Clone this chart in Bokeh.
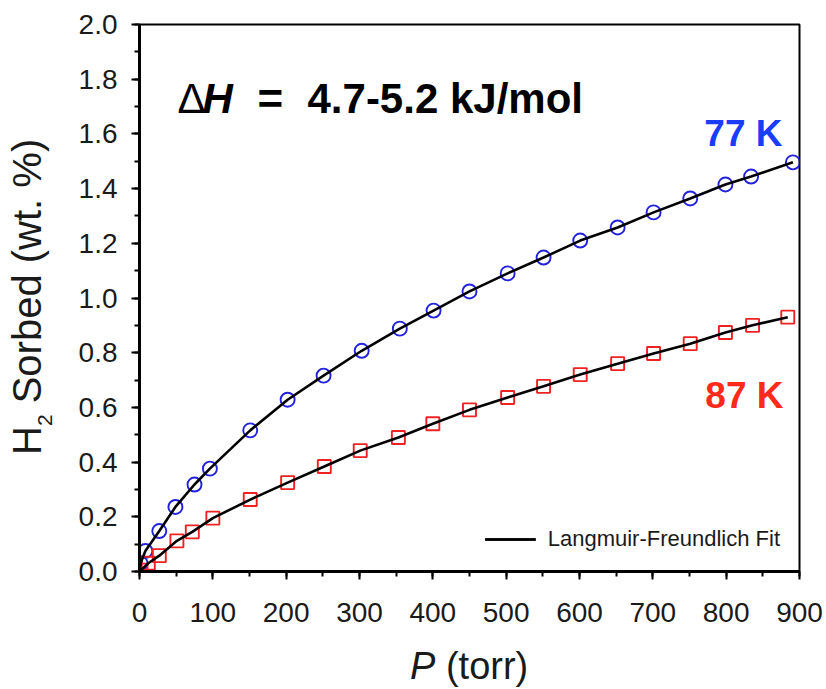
from bokeh.plotting import figure
from bokeh.models import (Range1d, SingleIntervalTicker, PrintfTickFormatter, Label, Legend, LegendItem, Div)
from bokeh.layouts import column, row
from bokeh.embed import file_html
from bokeh.resources import INLINE

# ---- data ----
p_77 = [1.5, 8, 27, 49, 75, 96, 151, 202, 251, 303, 355, 401, 450, 502, 551, 601, 652, 701, 751, 799, 834, 891]
w_77 = [0.03, 0.075, 0.148, 0.236, 0.318, 0.376, 0.516, 0.628, 0.716, 0.807, 0.888, 0.954, 1.024, 1.09, 1.148,
        1.21, 1.258, 1.313, 1.364, 1.415, 1.444, 1.496]
p_87 = [2, 12, 27, 51, 72, 100, 151, 202, 252, 301, 353, 400, 450, 502, 551, 601, 652, 701, 751, 799, 836, 884]
w_87 = [0.005, 0.03, 0.058, 0.112, 0.145, 0.195, 0.263, 0.325, 0.384, 0.442, 0.49, 0.54, 0.591, 0.636, 0.677,
        0.72, 0.76, 0.797, 0.833, 0.874, 0.9, 0.93]
# fit curves start at the origin
fit_p_77 = [0] + p_77
fit_w_77 = [0] + w_77
fit_p_87 = [0] + p_87
fit_w_87 = [0] + w_87

FONT = "Liberation Sans"
YDIV_W = 60
FIG_H = 640

p = figure(width=826 - YDIV_W, height=FIG_H, output_backend="svg", toolbar_location=None,
           x_range=Range1d(0, 900), y_range=Range1d(0, 2.0),
           min_border_left=139 - YDIV_W, min_border_right=27, min_border_top=24,
           min_border_bottom=FIG_H - 571)
p.xgrid.visible = False
p.ygrid.visible = False
p.outline_line_color = "black"
p.outline_line_width = 2
p.background_fill_color = "white"
p.border_fill_color = "white"

p.xaxis.ticker = SingleIntervalTicker(interval=100, num_minor_ticks=2)
p.yaxis.ticker = SingleIntervalTicker(interval=0.2, num_minor_ticks=2)
p.yaxis.formatter = PrintfTickFormatter(format="%.1f")
for ax in (p.xaxis, p.yaxis):
    ax.axis_line_width = 3
    ax.axis_line_color = "black"
    ax.major_tick_line_width = 2
    ax.minor_tick_line_width = 2
    ax.major_tick_out = 8
    ax.major_tick_in = 0
    ax.minor_tick_out = 5
    ax.minor_tick_in = 0
    ax.major_label_text_font = FONT
    ax.major_label_text_font_size = "28px"
    ax.major_label_text_color = "#1a1a1a"
p.xaxis.major_label_standoff = 23
p.yaxis.major_label_standoff = 14

# markers
p.scatter(p_77, w_77, marker="circle", size=14, fill_color=None, line_color="#2222dd", line_width=1.9)
p.scatter(p_87, w_87, marker="square", size=13, fill_color=None, line_color="#ee2222", line_width=1.9)
# fit lines
l1 = p.line(fit_p_77, fit_w_77, line_color="black", line_width=2.6)
l2 = p.line(fit_p_87, fit_w_87, line_color="black", line_width=2.6)

legend = Legend(items=[LegendItem(label="Langmuir-Freundlich Fit", renderers=[l1, l2])],
                location="bottom_right", margin=6, padding=13, label_standoff=12,
                glyph_width=51, glyph_height=20,
                label_text_font=FONT, label_text_font_size="22px", label_text_color="#1a1a1a",
                border_line_alpha=0, background_fill_alpha=0)
p.add_layout(legend)

def xd(px):
    return (px - 139) / (660 / 900)

def yd(py):
    return (571 - py) / (547 / 2.0)

# Delta H annotation
p.add_layout(Label(x=xd(177), y=yd(98), text="Δ", text_font=FONT, text_font_size="42px",
                   text_baseline="alphabetic", text_color="black"))
p.add_layout(Label(x=xd(202), y=yd(98), text="H", text_font=FONT, text_font_size="42px",
                   text_font_style="bold italic", text_baseline="alphabetic", text_color="black"))
p.add_layout(Label(x=xd(257), y=yd(98), text="=", text_font=FONT, text_font_size="44px",
                   text_font_style="bold", text_baseline="alphabetic", text_color="black"))
p.add_layout(Label(x=xd(307), y=yd(98), text="4.7-5.2 kJ/mol", text_font=FONT, text_font_size="42px",
                   text_font_style="bold", text_baseline="alphabetic", text_color="black"))

# series labels
p.add_layout(Label(x=xd(782), y=yd(133), text="77 K", text_font=FONT, text_font_size="37px",
                   text_font_style="bold", text_align="right", text_baseline="alphabetic", text_color="#1a3cff"))
p.add_layout(Label(x=xd(783), y=yd(395), text="87 K", text_font=FONT, text_font_size="37px",
                   text_font_style="bold", text_align="right", text_baseline="alphabetic", text_color="#ff2a1a"))

# axis titles (HTML so that italic / subscript parts are possible outside the frame)
ytitle = Div(width=YDIV_W, height=FIG_H, margin=0, text=(
    '<div style="position:relative;width:60px;height:640px;">'
    '<div style="position:absolute;left:7px;top:455px;transform-origin:0 0;transform:rotate(-90deg);'
    "white-space:nowrap;font-family:'Liberation Sans';font-size:40px;line-height:40px;color:#1a1a1a;\">"
    'H<sub style="font-size:21px;line-height:0;vertical-align:-11px;">2</sub> Sorbed (wt. %)</div></div>'))
xtitle = Div(width=826, height=689 - FIG_H, margin=0, text=(
    '<div style="position:relative;width:826px;height:49px;">'
    '<div style="position:absolute;left:410px;top:7px;white-space:nowrap;'
    "font-family:'Liberation Sans';font-size:38px;line-height:38px;color:#1a1a1a;\">"
    '<i>P</i> (torr)</div></div>'))

layout = column(row(ytitle, p, spacing=0, margin=0), xtitle, spacing=0, margin=0)

open("out.html", "w").write(file_html(layout, INLINE))
